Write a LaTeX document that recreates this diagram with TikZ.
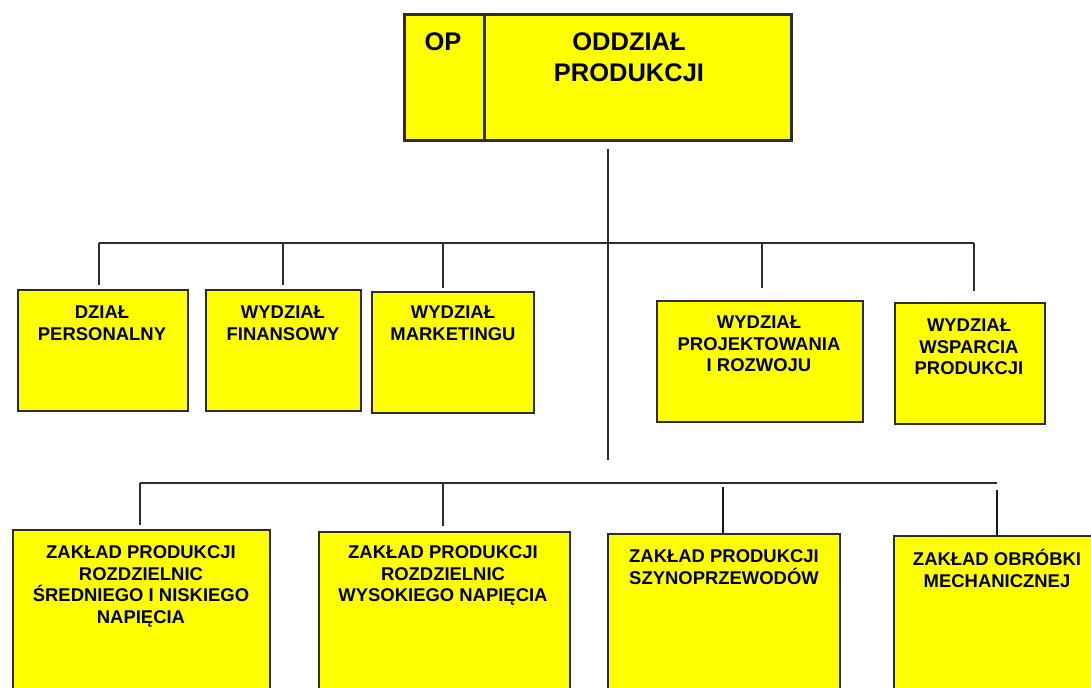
\documentclass[tikz,border=0pt]{standalone}
\usepackage{fontspec}
\setmainfont{Liberation Sans}
\definecolor{boxyellow}{RGB}{255,255,0}
\definecolor{linegray}{RGB}{45,45,45}
\newcommand\fs{\rule{0pt}{0.5cm}}
\begin{document}
\begin{tikzpicture}[x=0.02cm,y=-0.02cm,
  box/.style={draw=linegray,line width=1.2pt,fill=boxyellow,inner sep=0,anchor=north west},
  topbox/.style={box,line width=1.7pt},
  lbl/.style={font=\fontsize{10.5pt}{12.4pt}\selectfont\bfseries,align=center,inner sep=0,anchor=north,text=black},
  toplbl/.style={font=\fontsize{14.5pt}{18pt}\selectfont\bfseries,align=center,inner sep=0,anchor=north,text=black},
  conn/.style={draw=linegray,line width=1.1pt},
  thickconn/.style={draw=black!90,line width=1.6pt}]
\clip (0,0) rectangle (1091,688);
\fill[white] (0,0) rectangle (1091,688);
% top box
\node[topbox,minimum width=1.6cm,minimum height=2.52cm] (op) at (403,13) {};
\node[topbox,minimum width=6.14cm,minimum height=2.52cm] (main) at (483,13) {};
\node[toplbl] (tOP) at (443,25) {\fs OP};
\node[toplbl] (tMain) at (629,25) {\fs ODDZIAŁ\\PRODUKCJI};
% first row
\node[box,minimum width=3.4cm,minimum height=2.42cm] (A) at (17,289) {};
\node[box,minimum width=3.1cm,minimum height=2.42cm] (B) at (205,289) {};
\node[box,minimum width=3.24cm,minimum height=2.42cm] (C) at (371,291) {};
\node[box,minimum width=4.12cm,minimum height=2.42cm] (D) at (656,300) {};
\node[box,minimum width=3.0cm,minimum height=2.42cm] (E) at (894,302) {};
\node[lbl] (tA) at (102,293) {\fs DZIAŁ\\PERSONALNY};
\node[lbl] (tB) at (283,293) {\fs WYDZIAŁ\\FINANSOWY};
\node[lbl] (tC) at (453,293) {\fs WYDZIAŁ\\MARKETINGU};
\node[lbl] (tD) at (759,303) {\fs WYDZIAŁ\\PROJEKTOWANIA\\I ROZWOJU};
\node[lbl] (tE) at (969,306) {\fs WYDZIAŁ\\WSPARCIA\\PRODUKCJI};
% second row
\node[box,minimum width=5.14cm,minimum height=3.6cm] (F) at (12,529) {};
\node[box,minimum width=5.02cm,minimum height=3.6cm] (G) at (318,531) {};
\node[box,minimum width=4.64cm,minimum height=3.6cm] (H) at (607,533) {};
\node[box,minimum width=4.4cm,minimum height=3.6cm] (I) at (893,535) {};
\node[lbl] (tF) at (141,533) {\fs ZAKŁAD PRODUKCJI\\ROZDZIELNIC\\ŚREDNIEGO I NISKIEGO\\NAPIĘCIA};
\node[lbl] (tG) at (443,533) {\fs ZAKŁAD PRODUKCJI\\ROZDZIELNIC\\WYSOKIEGO NAPIĘCIA};
\node[lbl] (tH) at (724,537) {\fs ZAKŁAD PRODUKCJI\\SZYNOPRZEWODÓW};
\node[lbl] (tI) at (997,540) {\fs ZAKŁAD OBRÓBKI\\MECHANICZNEJ};
% stem
\coordinate (s1) at (608,149);
\coordinate (s2) at (608,460);
\draw[conn] (s1) -- (s2);
% upper bus
\coordinate (u1) at (99,243);
\coordinate (u2) at (283,243);
\coordinate (u3) at (443,243);
\coordinate (u4) at (762,243);
\coordinate (u5) at (974,243);
\draw[conn] (u1) -- (u5);
\draw[conn,shorten >=0.07cm] (u1) -- (u1 |- A.north);
\draw[conn,shorten >=0.07cm] (u2) -- (u2 |- B.north);
\draw[conn,shorten >=0.06cm] (u3) -- (u3 |- C.north);
\draw[conn,shorten >=0.24cm] (u4) -- (u4 |- D.north);
\draw[conn,shorten >=0.22cm] (u5) -- (u5 |- E.north);
% lower bus
\coordinate (l1) at (140,483);
\coordinate (l2) at (443,483);
\coordinate (l3) at (723,487);
\coordinate (l4) at (997,490);
\coordinate (lR) at (997,483);
\draw[conn] (l1) -- (lR);
\draw[conn,shorten >=0.08cm] (l1) -- (l1 |- F.north);
\draw[conn,shorten >=0.1cm] (l2) -- (l2 |- G.north);
\draw[thickconn] (l3) -- (l3 |- H.north);
\draw[thickconn] (l4) -- (l4 |- I.north);
\end{tikzpicture}
\end{document}
